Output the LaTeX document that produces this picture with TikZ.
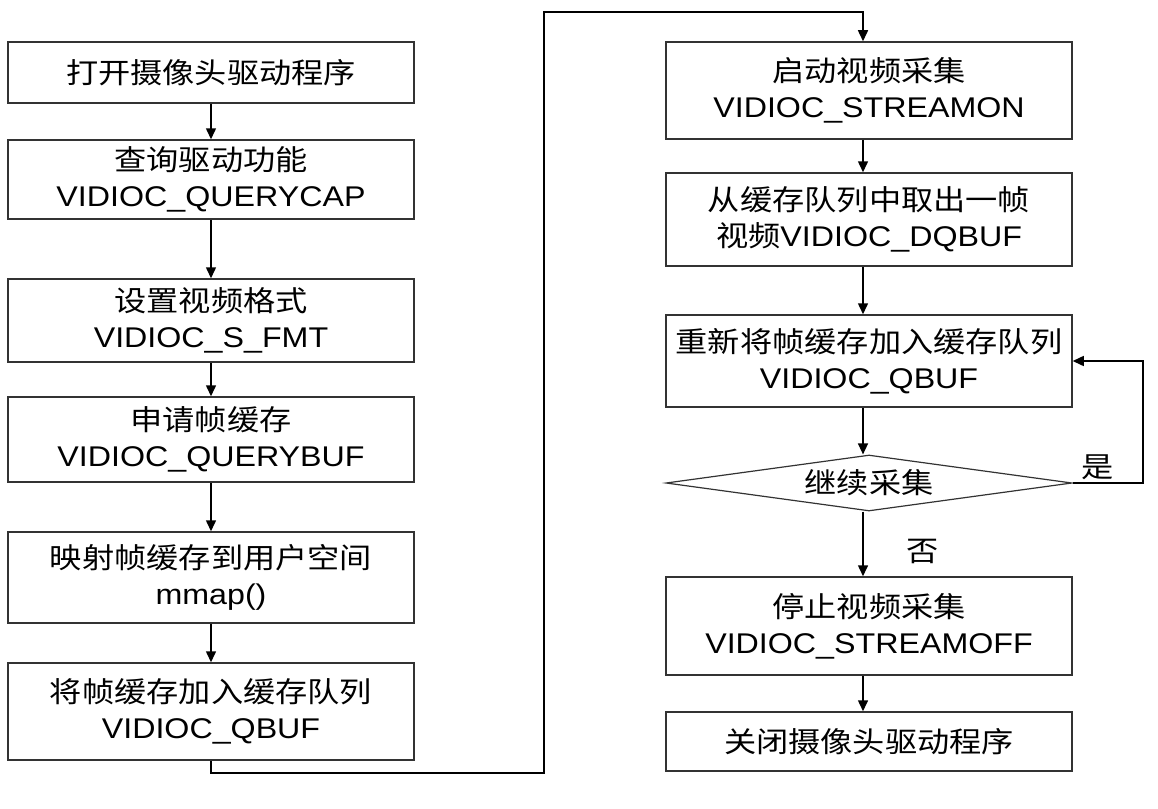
\documentclass[tikz,border=0pt]{standalone}
\usepackage{fontspec}
\setmainfont[FakeStretch=1.13]{Liberation Sans}
\newfontfamily\cjk[FakeStretch=1.13]{Noto Sans CJK SC}
\usetikzlibrary{arrows.meta,shapes.geometric}
\begin{document}
\begin{tikzpicture}[x=1pt,y=-1pt,
  box/.style={draw=black!80, line width=1.5pt, minimum width=406pt, inner sep=0pt, align=center, font=\fontsize{28.5}{36}\selectfont},
  dec/.style={diamond, draw=black!80, line width=1.2pt, minimum width=406pt, minimum height=56pt, inner sep=0pt, aspect=7.25, font=\fontsize{28.5}{36}\selectfont\cjk},
  arr/.style={draw=black, line width=1.5pt, -{Triangle[length=11pt,width=10pt]}},
  lbl/.style={inner sep=0pt, font=\fontsize{28.5}{36}\selectfont\cjk}]
\useasboundingbox (0,0) rectangle (1158,808);
% left column
\node[box, minimum height=61pt] (L1) at (211,72.5) {{\cjk 打开摄像头驱动程序}};
\node[box, minimum height=79pt] (L2) at (211,179.5) {{\cjk 查询驱动功能}\\VIDIOC\_QUERYCAP};
\node[box, minimum height=83pt] (L3) at (211,320.5) {{\cjk 设置视频格式}\\VIDIOC\_S\_FMT};
\node[box, minimum height=85pt] (L4) at (211,439.5) {{\cjk 申请帧缓存}\\VIDIOC\_QUERYBUF};
\node[box, minimum height=91pt] (L5) at (211,577.5) {{\cjk 映射帧缓存到用户空间}\\mmap()};
\node[box, minimum height=97pt] (L6) at (211,711.5) {{\cjk 将帧缓存加入缓存队列}\\VIDIOC\_QBUF};
% right column
\node[box, minimum height=97pt] (R1) at (869,90.5) {{\cjk 启动视频采集}\\VIDIOC\_STREAMON};
\node[box, minimum height=93pt] (R2) at (869,219.5) {{\cjk 从缓存队列中取出一帧}\\{\cjk 视频}VIDIOC\_DQBUF};
\node[box, minimum height=92pt] (R3) at (869,361) {{\cjk 重新将帧缓存加入缓存队列}\\VIDIOC\_QBUF};
\node[dec] (D) at (869,483) {继续采集};
\node[box, minimum height=98pt] (R4) at (869,626) {{\cjk 停止视频采集}\\VIDIOC\_STREAMOFF};
\node[box, minimum height=59pt] (R5) at (869,741.5) {{\cjk 关闭摄像头驱动程序}};
% helper coordinates
\coordinate (ax) at (863,0);
\coordinate (p1) at (544,773);
\coordinate (p2) at (544,12);
\coordinate (q) at (1143,0);
% left arrows
\draw[arr] (L1) -- (L2);
\draw[arr] (L2) -- (L3);
\draw[arr] (L3) -- (L4);
\draw[arr] (L4) -- (L5);
\draw[arr] (L5) -- (L6);
% crossing connector
\draw[arr] (L6.south) |- (p1) -- (p2) -| (R1.north -| ax);
% right arrows
\draw[arr] (R1.south -| ax) -- (R2.north -| ax);
\draw[arr] (R2.south -| ax) -- (R3.north -| ax);
\draw[arr] (R3.south -| ax) -- (D.north -| ax);
\draw[arr] (D.south -| ax) -- (R4.north -| ax);
\draw[arr] (R4.south -| ax) -- (R5.north -| ax);
% loop
\draw[arr] (D.east) -- (D.east -| q) |- (R3.east);
% labels
\node[lbl] (yes) at (1098,467) {是};
\node[lbl] (no) at (923,551) {否};
\end{tikzpicture}
\end{document}
